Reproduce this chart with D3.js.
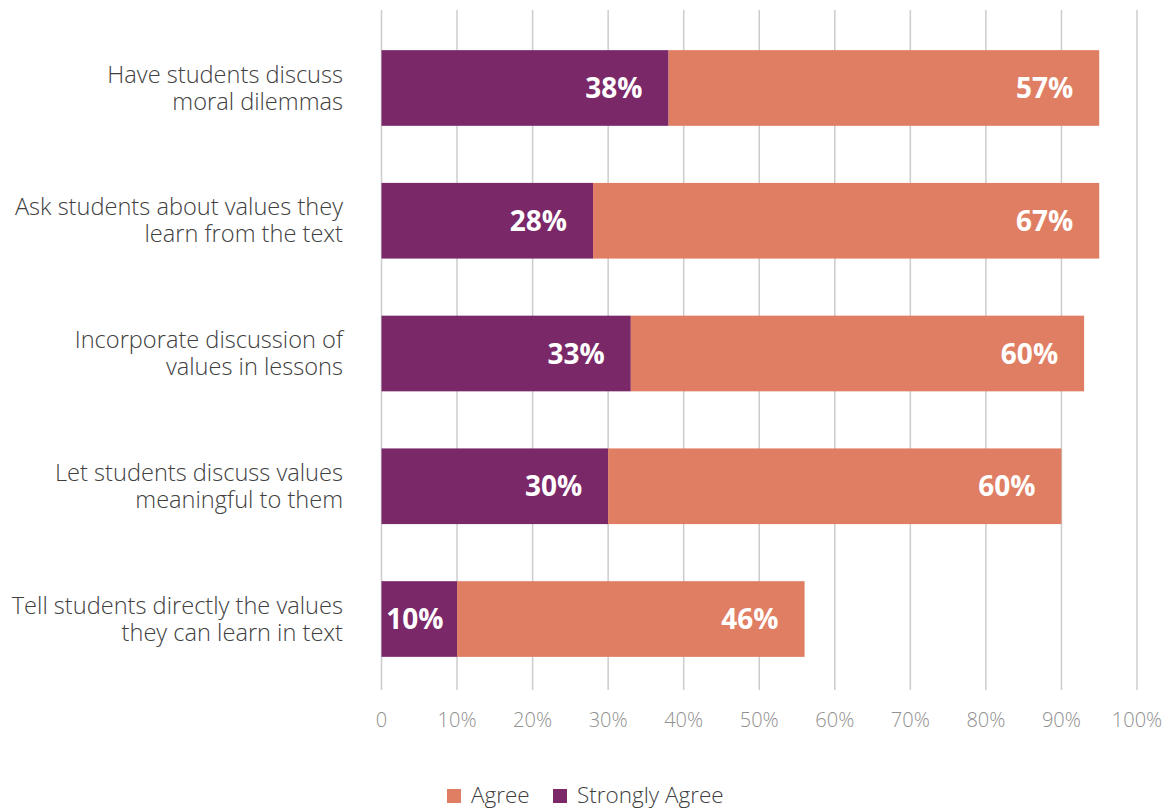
<!DOCTYPE html>
<html>
<head>
<meta charset="utf-8">
<script src="https://cdn.jsdelivr.net/npm/d3@7"></script>
<style>
  html, body { margin: 0; padding: 0; background: #fff; }
  svg { display: block; font-family: "Open Sans", "Noto Sans", sans-serif; }
</style>
</head>
<body>
<svg id="chart" width="1168" height="809"></svg>
<script>
// Survey statements (top to bottom)
const categories = [
  ["Have students discuss", "moral dilemmas"],
  ["Ask students about values they", "learn from the text"],
  ["Incorporate discussion of", "values in lessons"],
  ["Let students discuss values", "meaningful to them"],
  ["Tell students directly the values", "they can learn in text"]
];
const stronglyAgree = [38, 28, 33, 30, 10];
const agree = [57, 67, 60, 60, 46];
const tickValues = [0, 10, 20, 30, 40, 50, 60, 70, 80, 90, 100];
const tickLabels = ["0", "10%", "20%", "30%", "40%", "50%", "60%", "70%", "80%", "90%", "100%"];
const seriesNames = ["Agree", "Strongly Agree"];

const colors = { strong: "#7b2869", agree: "#e07e63" };

const svg = d3.select("#chart");

const x = d3.scaleLinear().domain([0, 100]).range([381.5, 1137]);
const y = d3.scaleBand()
  .domain(d3.range(categories.length))
  .range([21.6, 685.4])
  .paddingInner(0.43)
  .paddingOuter(0.215);

const gridTop = 10, gridBottom = 690;

// vertical gridlines
svg.append("g")
  .selectAll("line")
  .data(tickValues)
  .join("line")
  .attr("x1", d => x(d)).attr("x2", d => x(d))
  .attr("y1", gridTop).attr("y2", gridBottom)
  .attr("stroke", "#cccccc")
  .attr("stroke-width", 1.5);

// tick labels
svg.append("g")
  .selectAll("text")
  .data(tickValues)
  .join("text")
  .attr("x", d => x(d))
  .attr("y", 720)
  .attr("dy", "0.35em")
  .attr("text-anchor", "middle")
  .attr("fill", "#909090")
  .attr("font-size", 20)
  .attr("font-weight", 300)
  .text((d, i) => tickLabels[i]);

const rows = categories.map((c, i) => ({ i, c, s: stronglyAgree[i], a: agree[i] }));

// strongly agree segments
svg.append("g")
  .selectAll("rect")
  .data(rows)
  .join("rect")
  .attr("x", x(0))
  .attr("y", d => y(d.i))
  .attr("width", d => x(d.s) - x(0))
  .attr("height", y.bandwidth())
  .attr("fill", colors.strong);

// agree segments
svg.append("g")
  .selectAll("rect")
  .data(rows)
  .join("rect")
  .attr("x", d => x(d.s))
  .attr("y", d => y(d.i))
  .attr("width", d => x(d.s + d.a) - x(d.s))
  .attr("height", y.bandwidth())
  .attr("fill", colors.agree);

// value labels inside segments, right-aligned near the segment end
const valueLabel = (sel, endFn, valFn) => sel
  .attr("x", d => x(endFn(d)) - 26)
  .attr("y", d => y(d.i) + y.bandwidth() / 2)
  .attr("dy", "0.36em")
  .attr("text-anchor", "end")
  .attr("fill", "#ffffff")
  .attr("font-size", 28)
  .attr("font-weight", 700)
  .text(d => valFn(d) + "%");

svg.append("g").selectAll("text").data(rows).join("text")
  .call(valueLabel, d => d.s, d => d.s)
  .attr("x", d => Math.max(x(d.s) - 26, x(0) + 62));
svg.append("g").selectAll("text").data(rows).join("text")
  .call(valueLabel, d => d.s + d.a, d => d.a);

// category labels, two lines each, centred on the bar
const lineGap = 27;
svg.append("g")
  .selectAll("text")
  .data(rows.flatMap(r => r.c.map((line, k) => ({ i: r.i, line, k, n: r.c.length }))))
  .join("text")
  .attr("x", 343)
  .attr("y", t => y(t.i) + y.bandwidth() / 2 + (t.k - (t.n - 1) / 2) * lineGap)
  .attr("dy", "0.34em")
  .attr("text-anchor", "end")
  .attr("fill", "#404040")
  .attr("font-size", 23.6)
  .attr("font-weight", 300)
  .text(t => t.line);

// legend
const legend = svg.append("g");
const legendItems = [
  { name: seriesNames[0], color: colors.agree, x: 447 },
  { name: seriesNames[1], color: colors.strong, x: 553 }
];
const li = legend.selectAll("g").data(legendItems).join("g")
  .attr("transform", d => `translate(${d.x},795)`);
li.append("rect")
  .attr("x", 0).attr("y", -6)
  .attr("width", 14).attr("height", 14)
  .attr("fill", d => d.color);
li.append("text")
  .attr("x", 24).attr("y", 0)
  .attr("dy", "0.36em")
  .attr("fill", "#404040")
  .attr("font-size", 22.5)
  .attr("font-weight", 300)
  .text(d => d.name);
</script>
</body>
</html>
